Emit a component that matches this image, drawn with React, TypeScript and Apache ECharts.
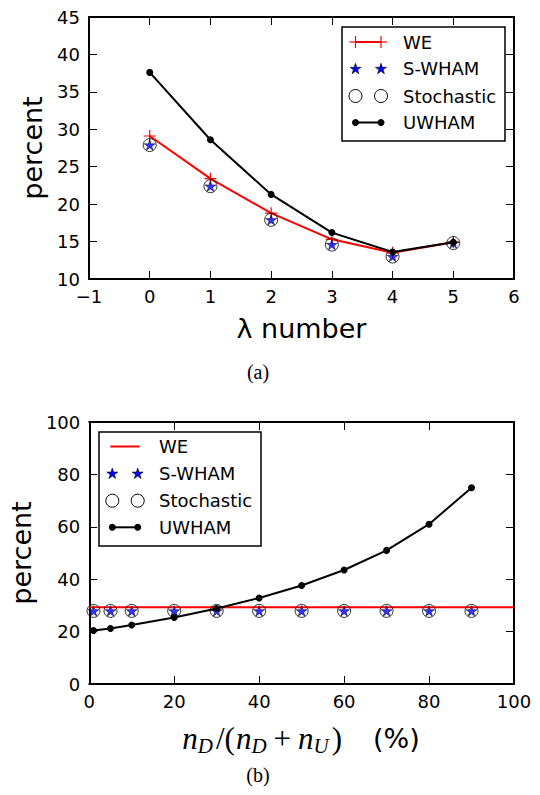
import React, { useEffect, useRef } from 'react';
import * as echarts from 'echarts';

// ---------- data: panel (a) ----------
const lambdaX = [0, 1, 2, 3, 4, 5];
const weA = [29.1, 23.4, 18.8, 15.3, 13.5, 14.9];
const swhamA = [27.9, 22.4, 17.9, 14.6, 13.0, 14.8];
const stochA = [27.9, 22.4, 17.9, 14.6, 13.0, 14.8];
const uwhamA = [37.6, 28.6, 21.3, 16.2, 13.6, 14.9];

// ---------- data: panel (b) ----------
const fracX = [1, 5, 10, 20, 30, 40, 50, 60, 70, 80, 90];
const weBX = [0, 100];
const weB = [29.3, 29.3];
const swhamB = [27.9, 27.9, 27.9, 27.9, 27.9, 27.9, 27.9, 27.9, 27.9, 27.9, 27.9];
const stochB = [27.9, 27.9, 27.9, 27.9, 27.9, 27.9, 27.9, 27.9, 27.9, 27.9, 27.9];
const uwhamB = [20.4, 21.2, 22.5, 25.4, 28.8, 32.8, 37.6, 43.5, 51.0, 61.0, 74.9];

// ---------- axes / labels ----------
const axisA = { xMin: -1, xMax: 6, xStep: 1, yMin: 10, yMax: 45, yStep: 5 };
const axisB = { xMin: 0, xMax: 100, xStep: 20, yMin: 0, yMax: 100, yStep: 20 };
const legendLabels = ['WE', 'S-WHAM', 'Stochastic', 'UWHAM'];
const yTitle = 'percent';
const xTitleA = 'λ number';
const panelLabels = ['(a)', '(b)'];

const pairs = (xs: number[], ys: number[]) => xs.map((x, i) => [x, ys[i]]);

const SANS = 'DejaVu Sans';
const SERIF = 'Liberation Serif';
const RED = '#ff0000';
const BLUE = '#0000ff';
const TICK_FS = 18;
const TITLE_FS = 27;
const LEGEND_FS = 18;

function starPathD(): string {
  let d = '';
  for (let i = 0; i < 10; i++) {
    const a = ((-90 + 36 * i) * Math.PI) / 180;
    const r = i % 2 ? 38.2 : 100;
    d += (i ? 'L' : 'M') + (r * Math.cos(a)).toFixed(2) + ' ' + (r * Math.sin(a)).toFixed(2) + ' ';
  }
  return d + 'Z';
}
const STAR = 'path://' + starPathD();
const PLUS = 'path://M0 -10L0 10M-10 0L10 0';

function starPoints(cx: number, cy: number, R: number): number[][] {
  const pts: number[][] = [];
  for (let i = 0; i < 10; i++) {
    const a = ((-90 + 36 * i) * Math.PI) / 180;
    const r = i % 2 ? R * 0.382 : R;
    pts.push([cx + r * Math.cos(a), cy + r * Math.sin(a) + R * 0.1]);
  }
  return pts;
}

const minusFmt = (v: number) => (v < 0 ? '\u2212' + Math.abs(v) : String(v));

function mainX(grid: number, a: any, name: string, nameGap: number) {
  return {
    gridIndex: grid, type: 'value', position: 'bottom',
    min: a.xMin, max: a.xMax, interval: a.xStep,
    name, nameLocation: 'middle', nameGap,
    nameTextStyle: { fontFamily: SANS, fontSize: TITLE_FS, color: '#000' },
    axisLine: { show: true, onZero: false, lineStyle: { color: '#000', width: 2 } },
    axisTick: { show: true, inside: true, length: 8, lineStyle: { color: '#000', width: 1 } },
    axisLabel: { color: '#000', fontFamily: SANS, fontSize: TICK_FS, margin: 8, formatter: minusFmt },
    splitLine: { show: false },
  };
}
function frameX(grid: number, a: any) {
  return {
    gridIndex: grid, type: 'value', position: 'top',
    min: a.xMin, max: a.xMax, interval: a.xStep,
    axisLine: { show: true, onZero: false, lineStyle: { color: '#000', width: 2 } },
    axisTick: { show: true, inside: true, length: 8, lineStyle: { color: '#000', width: 1 } },
    axisLabel: { show: false },
    splitLine: { show: false },
  };
}
function mainY(grid: number, a: any, nameGap: number) {
  return {
    gridIndex: grid, type: 'value', position: 'left',
    min: a.yMin, max: a.yMax, interval: a.yStep,
    name: yTitle, nameLocation: 'middle', nameGap, nameRotate: 90,
    nameTextStyle: { fontFamily: SANS, fontSize: TITLE_FS, color: '#000' },
    axisLine: { show: true, onZero: false, lineStyle: { color: '#000', width: 2 } },
    axisTick: { show: true, inside: true, length: 8, lineStyle: { color: '#000', width: 1 } },
    axisLabel: { color: '#000', fontFamily: SANS, fontSize: TICK_FS, margin: 9 },
    splitLine: { show: false },
  };
}
function frameY(grid: number, a: any) {
  return {
    gridIndex: grid, type: 'value', position: 'right',
    min: a.yMin, max: a.yMax, interval: a.yStep,
    axisLine: { show: true, onZero: false, lineStyle: { color: '#000', width: 2 } },
    axisTick: { show: true, inside: true, length: 8, lineStyle: { color: '#000', width: 1 } },
    axisLabel: { show: false },
    splitLine: { show: false },
  };
}

function seriesFor(ax: number, weX: number[], we: number[], weMarkers: boolean,
  sx: number[], sw: number[], st: number[], ux: number[], uw: number[]) {
  return [
    {
      type: 'line', name: legendLabels[0], xAxisIndex: ax, yAxisIndex: ax,
      data: pairs(weX, we), z: 2,
      showSymbol: weMarkers, symbol: PLUS, symbolSize: 12,
      itemStyle: { color: 'rgba(0,0,0,0)', borderColor: RED, borderWidth: 1.2 },
      lineStyle: { color: RED, width: 2 },
    },
    {
      type: 'scatter', name: legendLabels[2], xAxisIndex: ax, yAxisIndex: ax,
      data: pairs(sx, st), z: 3, symbol: 'circle', symbolSize: 13,
      itemStyle: { color: 'rgba(0,0,0,0)', borderColor: '#000', borderWidth: 1 },
    },
    {
      type: 'scatter', name: legendLabels[1], xAxisIndex: ax, yAxisIndex: ax,
      data: pairs(sx, sw), z: 4, symbol: STAR, symbolSize: [11, 10.5],
      itemStyle: { color: BLUE, borderColor: '#000', borderWidth: 0.6 },
    },
    {
      type: 'line', name: legendLabels[3], xAxisIndex: ax, yAxisIndex: ax,
      data: pairs(ux, uw), z: 5, symbol: 'circle', symbolSize: 7,
      itemStyle: { color: '#000', borderWidth: 0 },
      lineStyle: { color: '#000', width: 2 },
    },
  ];
}

function legendGraphic(bx: number, by: number, bw: number, bh: number,
  ys: number[], m1: number, m2: number, tx: number, wePlus: boolean) {
  const els: any[] = [
    { type: 'rect', shape: { x: bx, y: by, width: bw, height: bh },
      style: { fill: '#fff', stroke: '#000', lineWidth: 1.5 } },
  ];
  if (wePlus) {
    els.push({ type: 'line', shape: { x1: m1, y1: ys[0], x2: m2, y2: ys[0] }, style: { stroke: RED, lineWidth: 2 } });
    [m1, m2].forEach((m) => {
      els.push({ type: 'line', shape: { x1: m - 6, y1: ys[0], x2: m + 6, y2: ys[0] }, style: { stroke: RED, lineWidth: 1.2 } });
      els.push({ type: 'line', shape: { x1: m, y1: ys[0] - 6, x2: m, y2: ys[0] + 6 }, style: { stroke: RED, lineWidth: 1.2 } });
    });
  } else {
    els.push({ type: 'line', shape: { x1: m1 - 2, y1: ys[0], x2: m2 + 2, y2: ys[0] }, style: { stroke: RED, lineWidth: 2 } });
  }
  [m1, m2].forEach((m) => {
    els.push({ type: 'polygon', shape: { points: starPoints(m, ys[1], 5.8) },
      style: { fill: BLUE, stroke: '#000', lineWidth: 0.6 } });
  });
  [m1, m2].forEach((m) => {
    els.push({ type: 'circle', shape: { cx: m, cy: ys[2], r: 6.5 },
      style: { fill: 'rgba(0,0,0,0)', stroke: '#000', lineWidth: 1 } });
  });
  els.push({ type: 'line', shape: { x1: m1, y1: ys[3], x2: m2, y2: ys[3] }, style: { stroke: '#000', lineWidth: 2 } });
  [m1, m2].forEach((m) => {
    els.push({ type: 'circle', shape: { cx: m, cy: ys[3], r: 3.5 }, style: { fill: '#000' } });
  });
  legendLabels.forEach((t, i) => {
    els.push({ type: 'text', x: tx, y: ys[i],
      style: { text: t, fontFamily: SANS, fontSize: LEGEND_FS, fill: '#000', align: 'left', verticalAlign: 'middle' } });
  });
  return { type: 'group', z: 100, children: els };
}

export default function App() {
  const ref = useRef<HTMLDivElement>(null);
  useEffect(() => {
    if (!ref.current) return;
    const chart = echarts.init(ref.current, null, { renderer: 'svg' });
    const option: any = {
      animation: false,
      backgroundColor: '#fff',
      grid: [
        { left: 89, top: 17, width: 425, height: 262 },
        { left: 89, top: 422, width: 425, height: 262 },
      ],
      xAxis: [
        mainX(0, axisA, xTitleA, 36), frameX(0, axisA),
        mainX(1, axisB, '', 30), frameX(1, axisB),
      ],
      yAxis: [
        mainY(0, axisA, 42), frameY(0, axisA),
        mainY(1, axisB, 53), frameY(1, axisB),
      ],
      series: [
        ...seriesFor(0, lambdaX, weA, true, lambdaX, swhamA, stochA, lambdaX, uwhamA),
        ...seriesFor(2, weBX, weB, false, fracX, swhamB, stochB, fracX, uwhamB),
      ],
      graphic: [
        legendGraphic(342, 27, 163, 114, [42, 68.5, 96, 122.5], 355.5, 381, 403, true),
        legendGraphic(99, 432, 162, 114, [446.5, 473.3, 500.7, 527.3], 112.3, 137.7, 159, false),
        {
          type: 'text', x: 301, y: 738, z: 100,
          style: {
            text: '{i|n}{s|D}{r|/(}{i|n}{s|D}{p|+}{i|n}{s|U}{r|)}{g|(%)}',
            align: 'center', verticalAlign: 'middle',
            rich: {
              i: { fontFamily: SERIF, fontStyle: 'italic', fontSize: 31, lineHeight: 36, verticalAlign: 'middle', fill: '#000' },
              s: { fontFamily: SERIF, fontStyle: 'italic', fontSize: 21, lineHeight: 21, verticalAlign: 'bottom', fill: '#000' },
              r: { fontFamily: SERIF, fontSize: 31, lineHeight: 36, verticalAlign: 'middle', fill: '#000', padding: [0, 1, 0, 3] },
              p: { fontFamily: SERIF, fontSize: 31, lineHeight: 36, verticalAlign: 'middle', fill: '#000', padding: [0, 7, 0, 7] },
              g: { fontFamily: SANS, fontSize: 27, lineHeight: 36, verticalAlign: 'middle', fill: '#000', padding: [0, 0, 0, 30] },
            },
          },
        },
        {
          type: 'text', x: 258, y: 371.5, z: 100,
          style: { text: panelLabels[0], fontFamily: SERIF, fontSize: 20, fill: '#000', align: 'center', verticalAlign: 'middle' },
        },
        {
          type: 'text', x: 258, y: 775, z: 100,
          style: { text: panelLabels[1], fontFamily: SERIF, fontSize: 20, fill: '#000', align: 'center', verticalAlign: 'middle' },
        },
      ],
    };
    chart.setOption(option);
    return () => chart.dispose();
  }, []);
  return (
    <div
      ref={ref}
      style={{ position: 'fixed', left: 0, top: 0, width: 540, height: 795, background: '#fff' }}
    />
  );
}
